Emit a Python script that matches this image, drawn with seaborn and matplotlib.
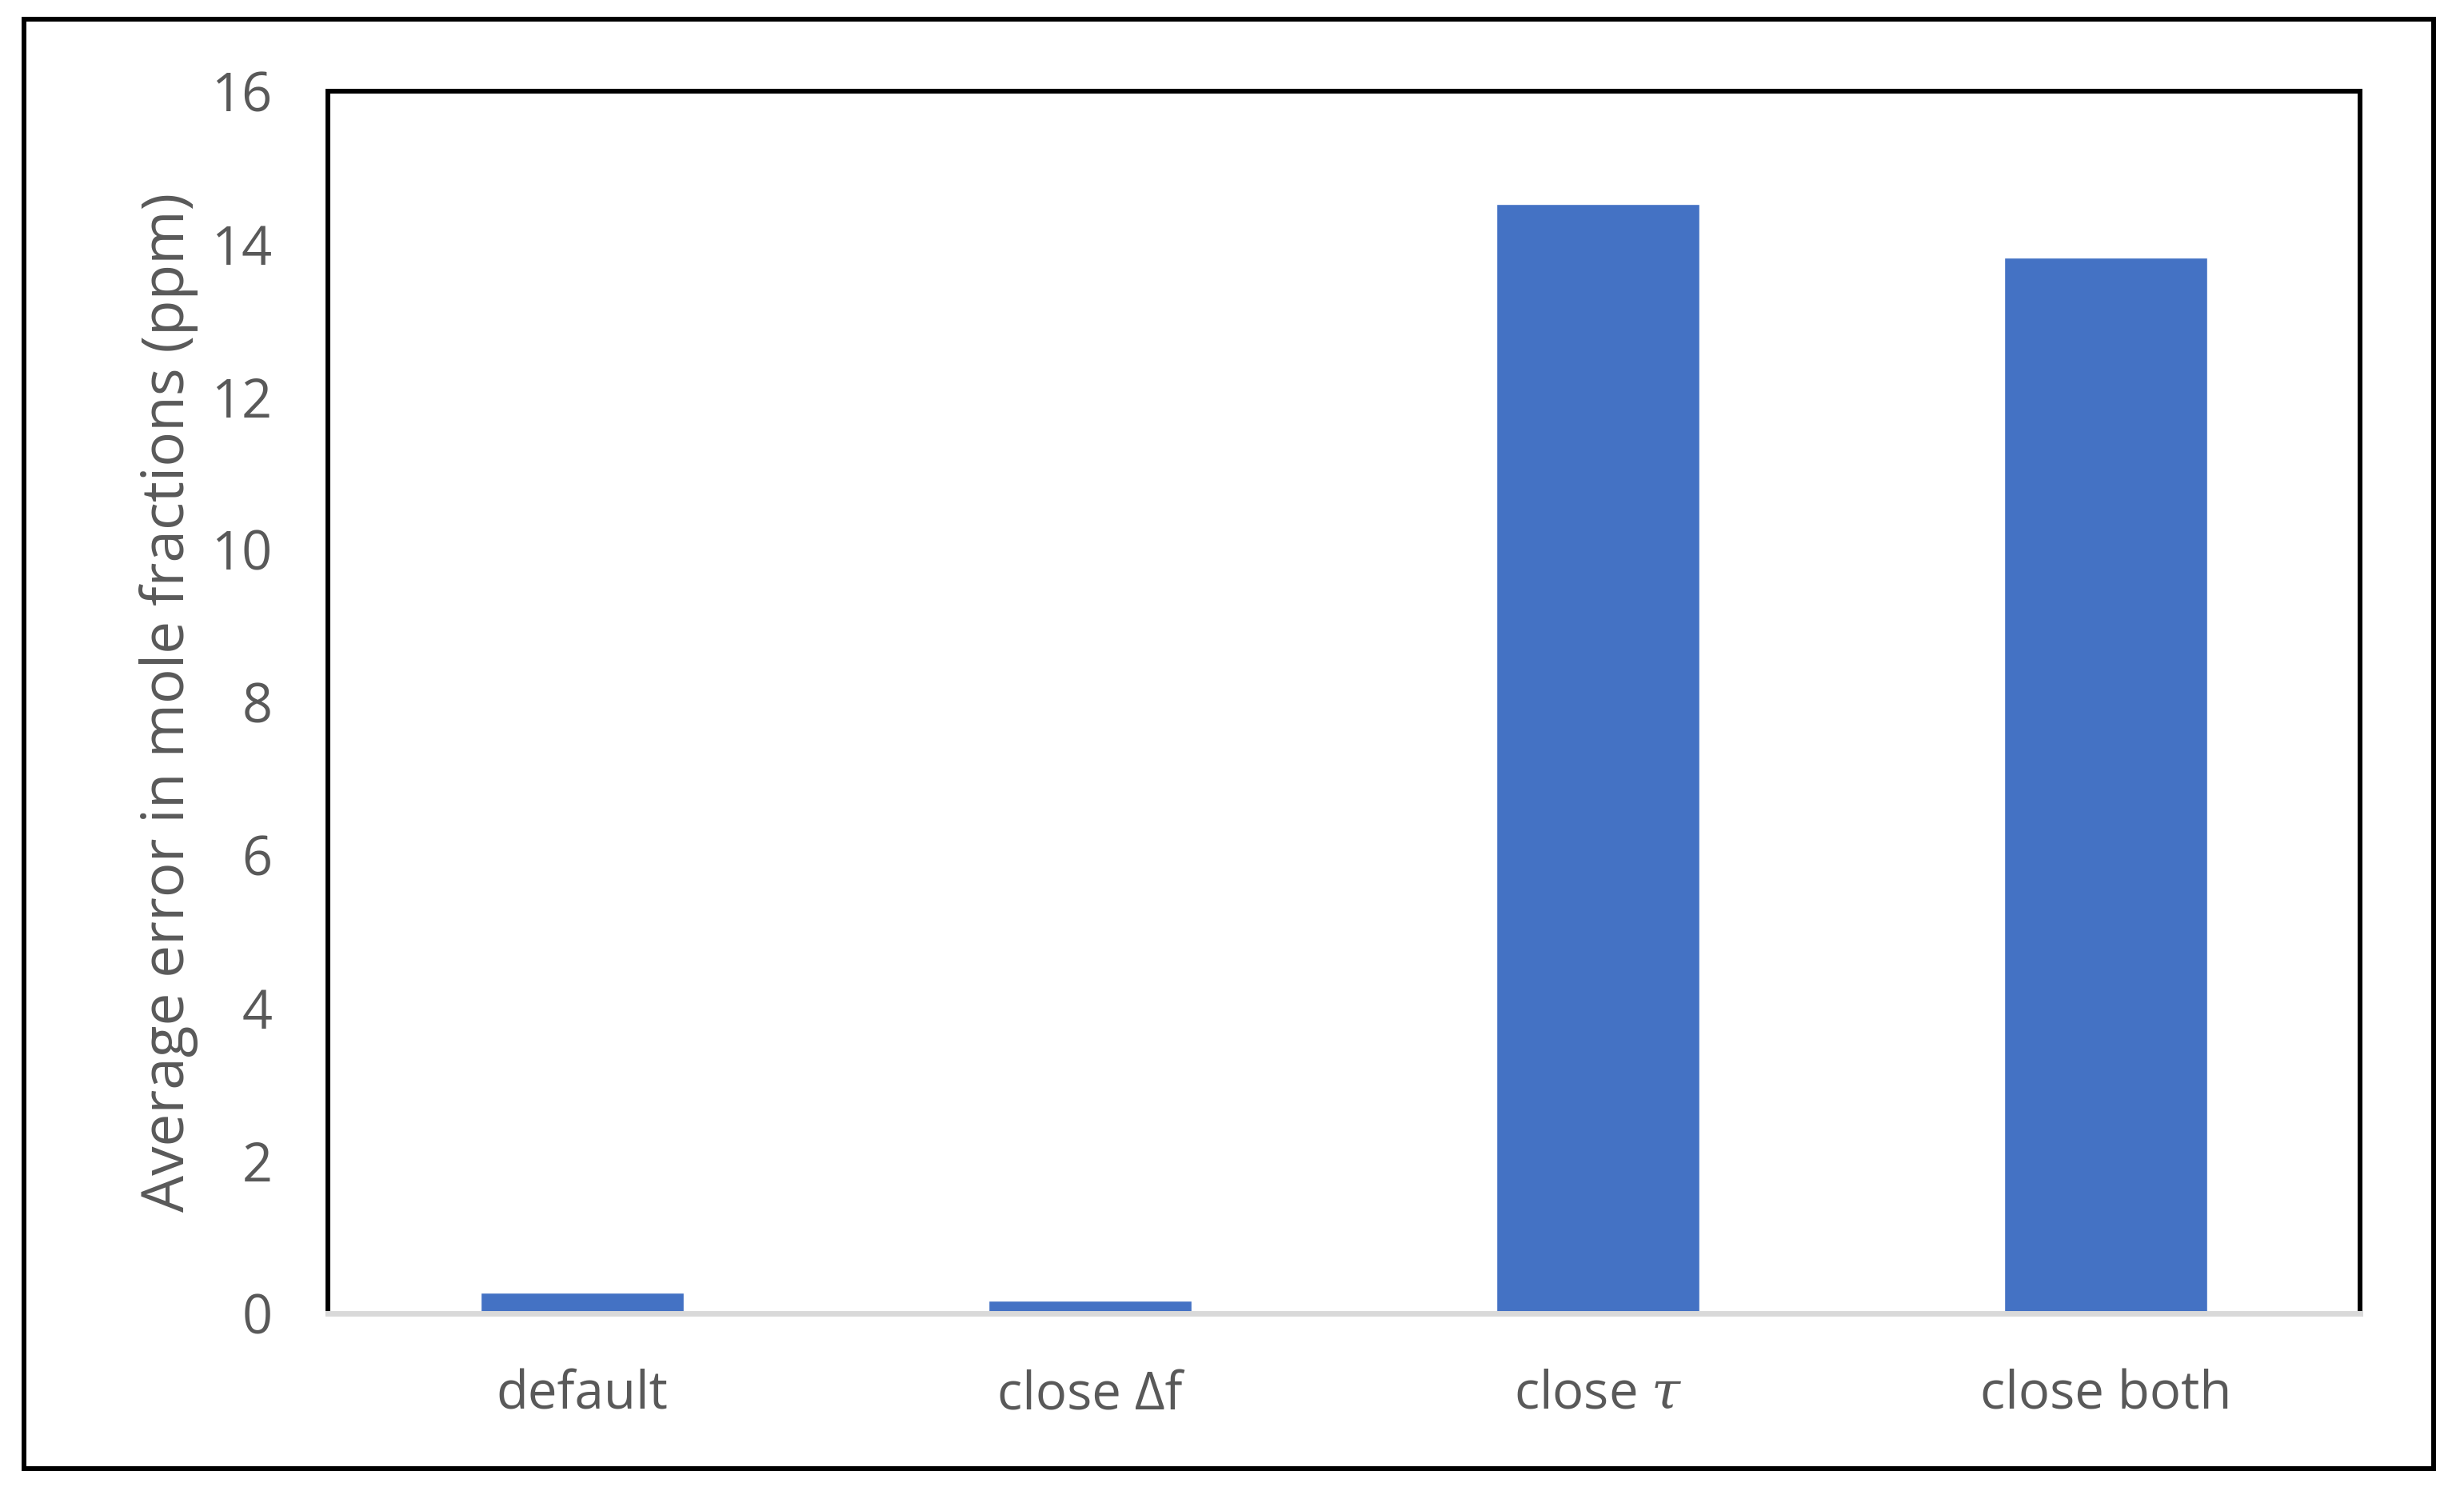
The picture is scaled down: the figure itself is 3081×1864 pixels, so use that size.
import matplotlib
matplotlib.use("Agg")
import matplotlib.pyplot as plt
import seaborn as sns
import pandas as pd
from matplotlib.patches import Rectangle

categories = ["default", "close Δf", "close $\\tau$", "close both"]
values = [0.27, 0.17, 14.52, 13.82]
y_ticks = [0, 2, 4, 6, 8, 10, 12, 14, 16]
y_label = "Average error in mole fractions (ppm)"

sns.set_theme(style="white")
plt.rcParams['font.family'] = ['Open Sans', 'DejaVu Sans']
plt.rcParams['mathtext.fontset'] = 'dejavuserif'

df = pd.DataFrame({"cat": categories, "val": values})

W, H, DPI = 3081, 1864, 100
fig = plt.figure(figsize=(W / DPI, H / DPI), dpi=DPI)
ax = fig.add_axes([410 / W, 1 - 1642 / H, (2951 - 410) / W, (1642 - 114) / H])

sns.barplot(data=df, x="cat", y="val", color="#4472C4", saturation=1, width=0.4, ax=ax, zorder=2)

ax.set_ylim(0, 16)
ax.set_xlim(-0.5, 3.5)
ax.set_yticks(y_ticks)
ax.set_yticklabels([str(t) for t in y_ticks])
ax.set_xlabel("")
ax.set_ylabel(y_label, fontsize=52.5, color="#595959", labelpad=12)
ax.tick_params(axis="y", length=0, pad=50, labelsize=48, labelcolor="#595959")
ax.tick_params(axis="x", length=0, pad=50, labelsize=47, labelcolor="#595959")

for s in ["left", "right", "top"]:
    ax.spines[s].set_color("black")
    ax.spines[s].set_linewidth(4.3)
ax.spines["bottom"].set_color("#D9D9D9")
ax.spines["bottom"].set_linewidth(5)
ax.spines["bottom"].set_zorder(3)

frame = Rectangle((30 / W, 1 - 1836 / H), (3043 - 30) / W, (1836 - 24) / H,
                  transform=fig.transFigure, fill=False, edgecolor="black", linewidth=4.3)
fig.patches.append(frame)

fig.savefig("out.png", dpi=DPI, facecolor="white")
